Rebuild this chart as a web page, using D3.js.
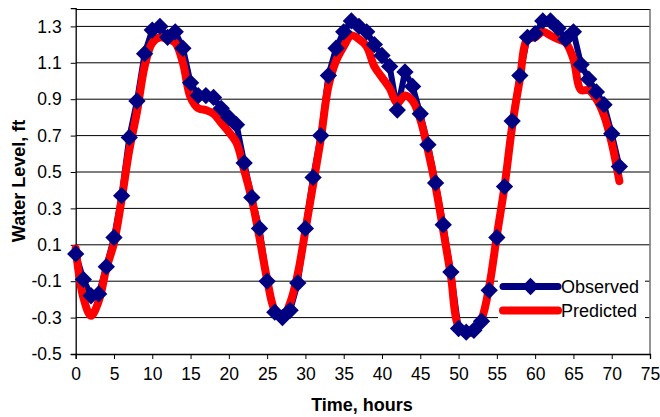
<!DOCTYPE html>
<html>
<head>
<meta charset="utf-8">
<script src="https://cdn.jsdelivr.net/npm/d3@7"></script>
<style>
  html, body { margin: 0; padding: 0; background: #fff; }
  svg { display: block; font-family: "Liberation Sans", Arial, sans-serif; }
</style>
</head>
<body>
<svg id="chart" width="660" height="417"></svg>
<script>
const hours = d3.range(0, 72);
const observed = [0.05, -0.09, -0.18, -0.17, -0.02, 0.14, 0.37, 0.69, 0.89, 1.15,
  1.28, 1.30, 1.24, 1.27, 1.18, 0.99, 0.92, 0.92, 0.91, 0.85,
  0.80, 0.76, 0.55, 0.36, 0.19, -0.10, -0.27, -0.30, -0.26, -0.11,
  0.19, 0.47, 0.70, 1.03, 1.18, 1.27, 1.33, 1.30, 1.27, 1.20,
  1.14, 1.08, 0.84, 1.05, 0.97, 0.82, 0.65, 0.44, 0.21, -0.05,
  -0.36, -0.38, -0.37, -0.32, -0.15, 0.14, 0.42, 0.78, 1.03, 1.24,
  1.26, 1.33, 1.33, 1.29, 1.23, 1.27, 1.09, 1.01, 0.94, 0.87,
  0.71, 0.53];
const predicted = [0.08, -0.19, -0.29, -0.21, -0.03, 0.11, 0.35, 0.62, 0.83, 1.08,
  1.21, 1.24, 1.23, 1.21, 1.10, 0.91, 0.85, 0.84, 0.82, 0.77,
  0.72, 0.66, 0.51, 0.35, 0.14, -0.09, -0.26, -0.30, -0.22, -0.06,
  0.18, 0.43, 0.68, 0.97, 1.11, 1.19, 1.25, 1.23, 1.19, 1.08,
  1.02, 0.96, 0.88, 0.92, 0.89, 0.79, 0.62, 0.42, 0.18, -0.07,
  -0.35, -0.38, -0.38, -0.31, -0.13, 0.15, 0.42, 0.75, 1.01, 1.23,
  1.24, 1.27, 1.25, 1.23, 1.21, 1.12, 0.95, 0.95, 0.90, 0.81,
  0.66, 0.45];
const xTicks = [0, 5, 10, 15, 20, 25, 30, 35, 40, 45, 50, 55, 60, 65, 70, 75];
const yTicks = [-0.5, -0.3, -0.1, 0.1, 0.3, 0.5, 0.7, 0.9, 1.1, 1.3];
const seriesNames = ["Observed", "Predicted"];

const svg = d3.select("#chart");
const pLeft = 75.7, pRight = 650, pTop = 8.2, pBottom = 354;
const x = d3.scaleLinear().domain([0, 75]).range([pLeft, pRight]);
const y = d3.scaleLinear().domain([-0.5, 1.4]).range([pBottom, pTop]);

// gridlines
svg.append("g").selectAll("line").data(yTicks.slice(1)).join("line")
  .attr("x1", pLeft).attr("x2", pRight)
  .attr("y1", d => y(d)).attr("y2", d => y(d))
  .attr("stroke", "#000").attr("stroke-width", 1);

// plot frame (top and right)
svg.append("line").attr("x1", pLeft).attr("x2", pRight + 0.5).attr("y1", 9.5).attr("y2", 9.5)
  .attr("stroke", "#000").attr("stroke-width", 1);
svg.append("line").attr("x1", pRight).attr("x2", pRight).attr("y1", 9.5).attr("y2", pBottom)
  .attr("stroke", "#7a7a7a").attr("stroke-width", 1.6);

// axes
const xAxis = d3.axisBottom(x).tickValues(xTicks).tickSize(5).tickPadding(9).tickFormat(d3.format("d"));
const gx = svg.append("g").attr("transform", `translate(0,${pBottom})`).call(xAxis);
gx.select(".domain").attr("stroke", "#000").attr("stroke-width", 1.3);
gx.selectAll(".tick line").attr("stroke", "#000");
gx.selectAll("text").attr("font-size", 17.5).attr("fill", "#000")
  .attr("font-family", "Liberation Sans, Arial, sans-serif");

const fmtY = d => d.toFixed(1);
const yAxis = d3.axisLeft(y).tickValues(yTicks).tickSize(5).tickPadding(9).tickFormat(fmtY);
const gy = svg.append("g").attr("transform", `translate(${pLeft},0)`).call(yAxis);
gy.select(".domain").attr("stroke", "#000").attr("stroke-width", 1.3);
gy.selectAll(".tick line").attr("stroke", "#000");
gy.selectAll("text").attr("font-size", 17.5).attr("fill", "#000")
  .attr("font-family", "Liberation Sans, Arial, sans-serif");

// series lines
const obsPts = hours.map((h, i) => [h, observed[i]]);
const predPts = hours.map((h, i) => [h, predicted[i]]);
const lineLinear = d3.line().x(d => x(d[0])).y(d => y(d[1]));
const lineSmooth = d3.line().x(d => x(d[0])).y(d => y(d[1])).curve(d3.curveCatmullRom.alpha(0.5));

svg.append("path").attr("d", lineLinear(obsPts)).attr("fill", "none")
  .attr("stroke", "#000080").attr("stroke-width", 6).attr("stroke-linejoin", "round");
svg.append("path").attr("d", lineSmooth(predPts)).attr("fill", "none")
  .attr("stroke", "#ff0000").attr("stroke-width", 8).attr("stroke-linejoin", "round")
  .attr("stroke-linecap", "round");

const diamond = d3.symbol().type(d3.symbolSquare).size(150);
svg.append("g").selectAll("path").data(obsPts).join("path")
  .attr("d", diamond)
  .attr("transform", d => `translate(${x(d[0])},${y(d[1])}) rotate(45)`)
  .attr("fill", "#000080");

// legend
const lg = svg.append("g");
lg.append("rect").attr("x", 498).attr("y", 272).attr("width", 147).attr("height", 50).attr("fill", "#fff");
const rows = [286.5, 310.5];
lg.append("line").attr("x1", 503).attr("x2", 558).attr("y1", rows[0]).attr("y2", rows[0])
  .attr("stroke", "#000080").attr("stroke-width", 7).attr("stroke-linecap", "round");
lg.append("path").attr("d", diamond).attr("transform", `translate(530.5,${rows[0]}) rotate(45)`).attr("fill", "#000080");
lg.append("line").attr("x1", 503).attr("x2", 558).attr("y1", rows[1]).attr("y2", rows[1])
  .attr("stroke", "#ff0000").attr("stroke-width", 8).attr("stroke-linecap", "round");
lg.selectAll("text").data(seriesNames).join("text")
  .attr("x", 561).attr("y", (d, i) => rows[i]).attr("dy", "0.35em")
  .attr("font-size", 18).attr("fill", "#000").text(d => d);

// axis titles
svg.append("text").attr("x", 362).attr("y", 411).attr("text-anchor", "middle")
  .attr("font-size", 18).attr("font-weight", "bold").text("Time, hours");
svg.append("text").attr("transform", "translate(25,181) rotate(-90)").attr("text-anchor", "middle")
  .attr("font-size", 18).attr("font-weight", "bold").text("Water Level, ft");
</script>
</body>
</html>
